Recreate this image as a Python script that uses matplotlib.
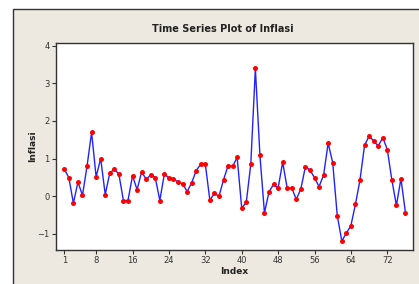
import numpy as np
import matplotlib
matplotlib.use("Agg")
import matplotlib.pyplot as plt
from matplotlib.patches import Rectangle

inflasi = [0.72, 0.49, -0.19, 0.37, 0.02, 0.79, 1.70, 0.51, 1.00, 0.04,
           0.61, 0.72, 0.58, -0.12, -0.12, 0.54, 0.17, 0.64, 0.45, 0.56,
           0.49, -0.12, 0.59, 0.48, 0.46, 0.37, 0.33, 0.12, 0.35, 0.68,
           0.85, 0.85, -0.11, 0.07, -0.01, 0.43, 0.81, 0.79, 1.03, -0.32,
           -0.17, 0.85, 3.40, 1.09, -0.45, 0.11, 0.31, 0.21, 0.90, 0.21,
           0.21, -0.09, 0.19, 0.78, 0.69, 0.49, 0.25, 0.56, 1.41, 0.89,
           -0.52, -1.20, -0.99, -0.79, -0.22, 0.43, 1.35, 1.60, 1.47, 1.33,
           1.56, 1.24, 0.43, -0.25, 0.46, -0.45]
index = np.arange(1, len(inflasi) + 1)
xticks = [1, 8, 16, 24, 32, 40, 48, 56, 64, 72]
yticks = [-1, 0, 1, 2, 3, 4]

W, H = 419, 284
fig = plt.figure(figsize=(W / 100, H / 100), dpi=100, facecolor="white")
# beige Minitab frame, kept behind the axes
fig.patches.append(Rectangle((13 / W, -0.1), 1.2, (H - 9) / H + 0.1,
                             transform=fig.transFigure, facecolor="#ede9e0",
                             edgecolor="#333333", linewidth=1.0, zorder=-10))

ax = fig.add_axes([56 / W, 34 / H, (413 - 56) / W, (250 - 43) / H])
ax.set_facecolor("white")
ax.plot(index, inflasi, color="#2222ff", linewidth=1.0, zorder=2)
ax.plot(index, inflasi, "o", color="#ff0000", markersize=3.6,
        markeredgewidth=0, zorder=3)

ax.set_xlim(-0.82, 77.65)
ax.set_ylim(-1.44, 4.08)
ax.set_xticks(xticks)
ax.set_yticks(yticks)
ax.tick_params(labelsize=6, colors="#333333", length=3, width=0.8, pad=1.5)
for s in ax.spines.values():
    s.set_color("#333333")
    s.set_linewidth(1.0)

ax.set_xlabel("Index", fontsize=6.5, fontweight="bold", color="#222222", labelpad=1)
ax.set_ylabel("Inflasi", fontsize=6.5, fontweight="bold", color="#222222", labelpad=0.5)
fig.text(223 / W, 1 - 29 / H, "Time Series Plot of Inflasi", fontsize=7,
         fontweight="bold", color="#222222", ha="center", va="center")

fig.savefig("out.png", dpi=100, facecolor=fig.get_facecolor())
